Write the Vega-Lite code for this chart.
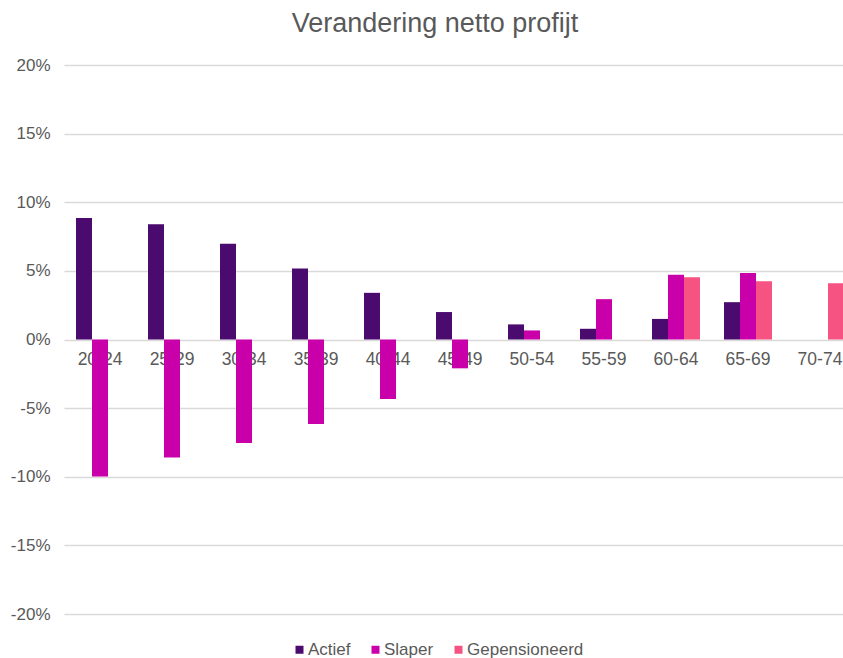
{
  "$schema": "https://vega.github.io/schema/vega-lite/v6.json",
  "autosize": "none",
  "padding": {"left": 64, "top": 65, "right": 0, "bottom": 44},
  "width": 792,
  "height": 549,
  "background": "white",
  "title": {
    "text": "Verandering netto profijt",
    "font": "Liberation Sans",
    "fontSize": 27,
    "fontWeight": "normal",
    "color": "#595959",
    "anchor": "middle",
    "dx": -25,
    "offset": 18
  },
  "data": {
    "values": [
      {"leeftijd": "20-24", "groep": "Actief", "waarde": 8.85},
      {"leeftijd": "20-24", "groep": "Slaper", "waarde": -9.98},
      {"leeftijd": "25-29", "groep": "Actief", "waarde": 8.4},
      {"leeftijd": "25-29", "groep": "Slaper", "waarde": -8.59},
      {"leeftijd": "30-34", "groep": "Actief", "waarde": 6.98},
      {"leeftijd": "30-34", "groep": "Slaper", "waarde": -7.54},
      {"leeftijd": "35-39", "groep": "Actief", "waarde": 5.18},
      {"leeftijd": "35-39", "groep": "Slaper", "waarde": -6.15},
      {"leeftijd": "40-44", "groep": "Actief", "waarde": 3.4},
      {"leeftijd": "40-44", "groep": "Slaper", "waarde": -4.33},
      {"leeftijd": "45-49", "groep": "Actief", "waarde": 2.0},
      {"leeftijd": "45-49", "groep": "Slaper", "waarde": -2.1},
      {"leeftijd": "50-54", "groep": "Actief", "waarde": 1.1},
      {"leeftijd": "50-54", "groep": "Slaper", "waarde": 0.66},
      {"leeftijd": "55-59", "groep": "Actief", "waarde": 0.78},
      {"leeftijd": "55-59", "groep": "Slaper", "waarde": 2.94},
      {"leeftijd": "60-64", "groep": "Actief", "waarde": 1.5},
      {"leeftijd": "60-64", "groep": "Slaper", "waarde": 4.72},
      {"leeftijd": "60-64", "groep": "Gepensioneerd", "waarde": 4.53},
      {"leeftijd": "65-69", "groep": "Actief", "waarde": 2.72},
      {"leeftijd": "65-69", "groep": "Slaper", "waarde": 4.84},
      {"leeftijd": "65-69", "groep": "Gepensioneerd", "waarde": 4.24},
      {"leeftijd": "70-74", "groep": "Gepensioneerd", "waarde": 4.09}
    ]
  },
  "mark": {"type": "bar"},
  "encoding": {
    "x": {
      "field": "leeftijd",
      "type": "nominal",
      "sort": null,
      "scale": {"paddingInner": 0.3333, "paddingOuter": 0.1667},
      "axis": {
        "title": null,
        "labelAngle": 0,
        "offset": -274.5,
        "domain": false,
        "ticks": false,
        "labelPadding": 11,
        "labelFont": "Liberation Sans",
        "labelFontSize": 17.5,
        "labelColor": "#595959"
      }
    },
    "xOffset": {
      "field": "groep",
      "type": "nominal",
      "sort": ["Actief", "Slaper", "Gepensioneerd"],
      "scale": {"domain": ["Actief", "Slaper", "Gepensioneerd"], "paddingInner": 0, "paddingOuter": 0}
    },
    "y": {
      "field": "waarde",
      "type": "quantitative",
      "scale": {"domain": [-20, 20], "nice": false, "zero": true},
      "axis": {
        "title": null,
        "values": [-20, -15, -10, -5, 0, 5, 10, 15, 20],
        "labelExpr": "datum.value + '%'",
        "domain": false,
        "ticks": false,
        "labelPadding": 14,
        "labelFont": "Liberation Sans",
        "labelFontSize": 17,
        "labelColor": "#595959",
        "gridColor": "#d9d9d9",
        "gridWidth": 1.3
      }
    },
    "color": {
      "field": "groep",
      "type": "nominal",
      "sort": ["Actief", "Slaper", "Gepensioneerd"],
      "scale": {"domain": ["Actief", "Slaper", "Gepensioneerd"], "range": ["#4b0a6e", "#c900aa", "#f65382"]},
      "legend": {
        "title": null,
        "orient": "none",
        "legendX": 227,
        "legendY": 576,
        "padding": 0,
        "direction": "horizontal",
        "symbolType": "square",
        "symbolSize": 64,
        "symbolStrokeWidth": 0,
        "labelFont": "Liberation Sans",
        "labelFontSize": 17,
        "labelColor": "#595959",
        "labelOffset": 0,
        "columnPadding": 16
      }
    }
  },
  "config": {"view": {"stroke": null}}
}
